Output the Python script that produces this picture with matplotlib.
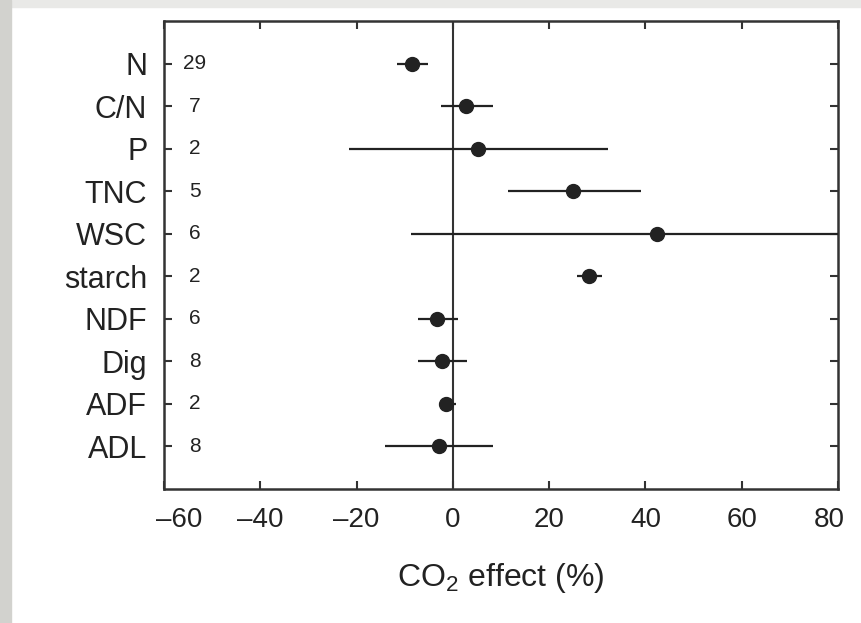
import numpy as np
import matplotlib
matplotlib.use('Agg')
import matplotlib.pyplot as plt
from matplotlib.patches import Rectangle
from matplotlib.transforms import ScaledTranslation

# categories (top to bottom), number of studies, mean effect and CI limits
cats = ['N', 'C/N', 'P', 'TNC', 'WSC', 'starch', 'NDF', 'Dig', 'ADF', 'ADL']
n_obs = [29, 7, 2, 5, 6, 2, 6, 8, 2, 8]
effect = [-8.5, 2.8, 5.3, 25.0, 42.4, 28.3, -3.3, -2.3, -1.4, -2.8]
ci_low = [-11.5, -2.5, -21.6, 11.4, -8.7, 25.7, -7.3, -7.3, -2.8, -14.1]
ci_high = [-5.1, 8.3, 32.2, 39.0, 80.0, 30.9, 1.1, 3.0, 0.6, 8.3]
xticks = [-60, -40, -20, 0, 20, 40, 60, 80]

plt.rcParams['font.family'] = ['Liberation Sans', 'DejaVu Sans']
plt.rcParams['mathtext.default'] = 'regular'

ink = '#222222'
spine_col = '#333333'

fig = plt.figure(figsize=(8.61, 6.23), dpi=100, facecolor='white')
# grey page edges of the screenshot
fig.patches.append(Rectangle((0, 1 - 7 / 623), 1, 7 / 623, transform=fig.transFigure,
                             color='#e9e9e7', zorder=0))
fig.patches.append(Rectangle((0, 0), 11 / 861, 1, transform=fig.transFigure,
                             color='#d2d2ce', zorder=0))

ax = fig.add_axes([164 / 861, 1 - 489 / 623, (838 - 164) / 861, (489 - 21) / 623])

y = np.arange(1, len(cats) + 1)
eff = np.array(effect)
err = [eff - np.array(ci_low), np.array(ci_high) - eff]

ax.axvline(0, color=spine_col, lw=1.5, zorder=1)
ax.errorbar(eff, y, xerr=err, fmt='o', color=ink, ms=10, elinewidth=1.6,
            capsize=0, zorder=3)

for yi, n in zip(y, n_obs):
    ax.text(-53.6, yi, str(n), ha='center', va='center', fontsize=15, color=ink)

ax.set_xlim(-60, 80)
ax.set_ylim(11, 0)
ax.set_xticks(xticks)
ax.set_xticklabels([('\u2013' if v < 0 else '') + str(abs(v)) for v in xticks],
                   fontsize=20)
ax.set_yticks(y)
ax.set_yticklabels(cats, fontsize=22)

ax.tick_params(axis='both', direction='in', length=6, width=1.5, color=spine_col,
               top=True, right=True, labelcolor=ink)
ax.tick_params(axis='x', pad=13)
ax.tick_params(axis='y', pad=12)

# end labels sit a little inside the frame
labs = ax.get_xticklabels()
labs[0].set_transform(labs[0].get_transform() + ScaledTranslation(0.15, 0, fig.dpi_scale_trans))
labs[-1].set_transform(labs[-1].get_transform() + ScaledTranslation(-0.09, 0, fig.dpi_scale_trans))

for s in ax.spines.values():
    s.set_linewidth(1.8)
    s.set_color(spine_col)

ax.set_xlabel('CO$_{2}$ effect (%)', fontsize=23, color=ink, labelpad=20)

fig.savefig('out.png', dpi=100, facecolor=fig.get_facecolor())
